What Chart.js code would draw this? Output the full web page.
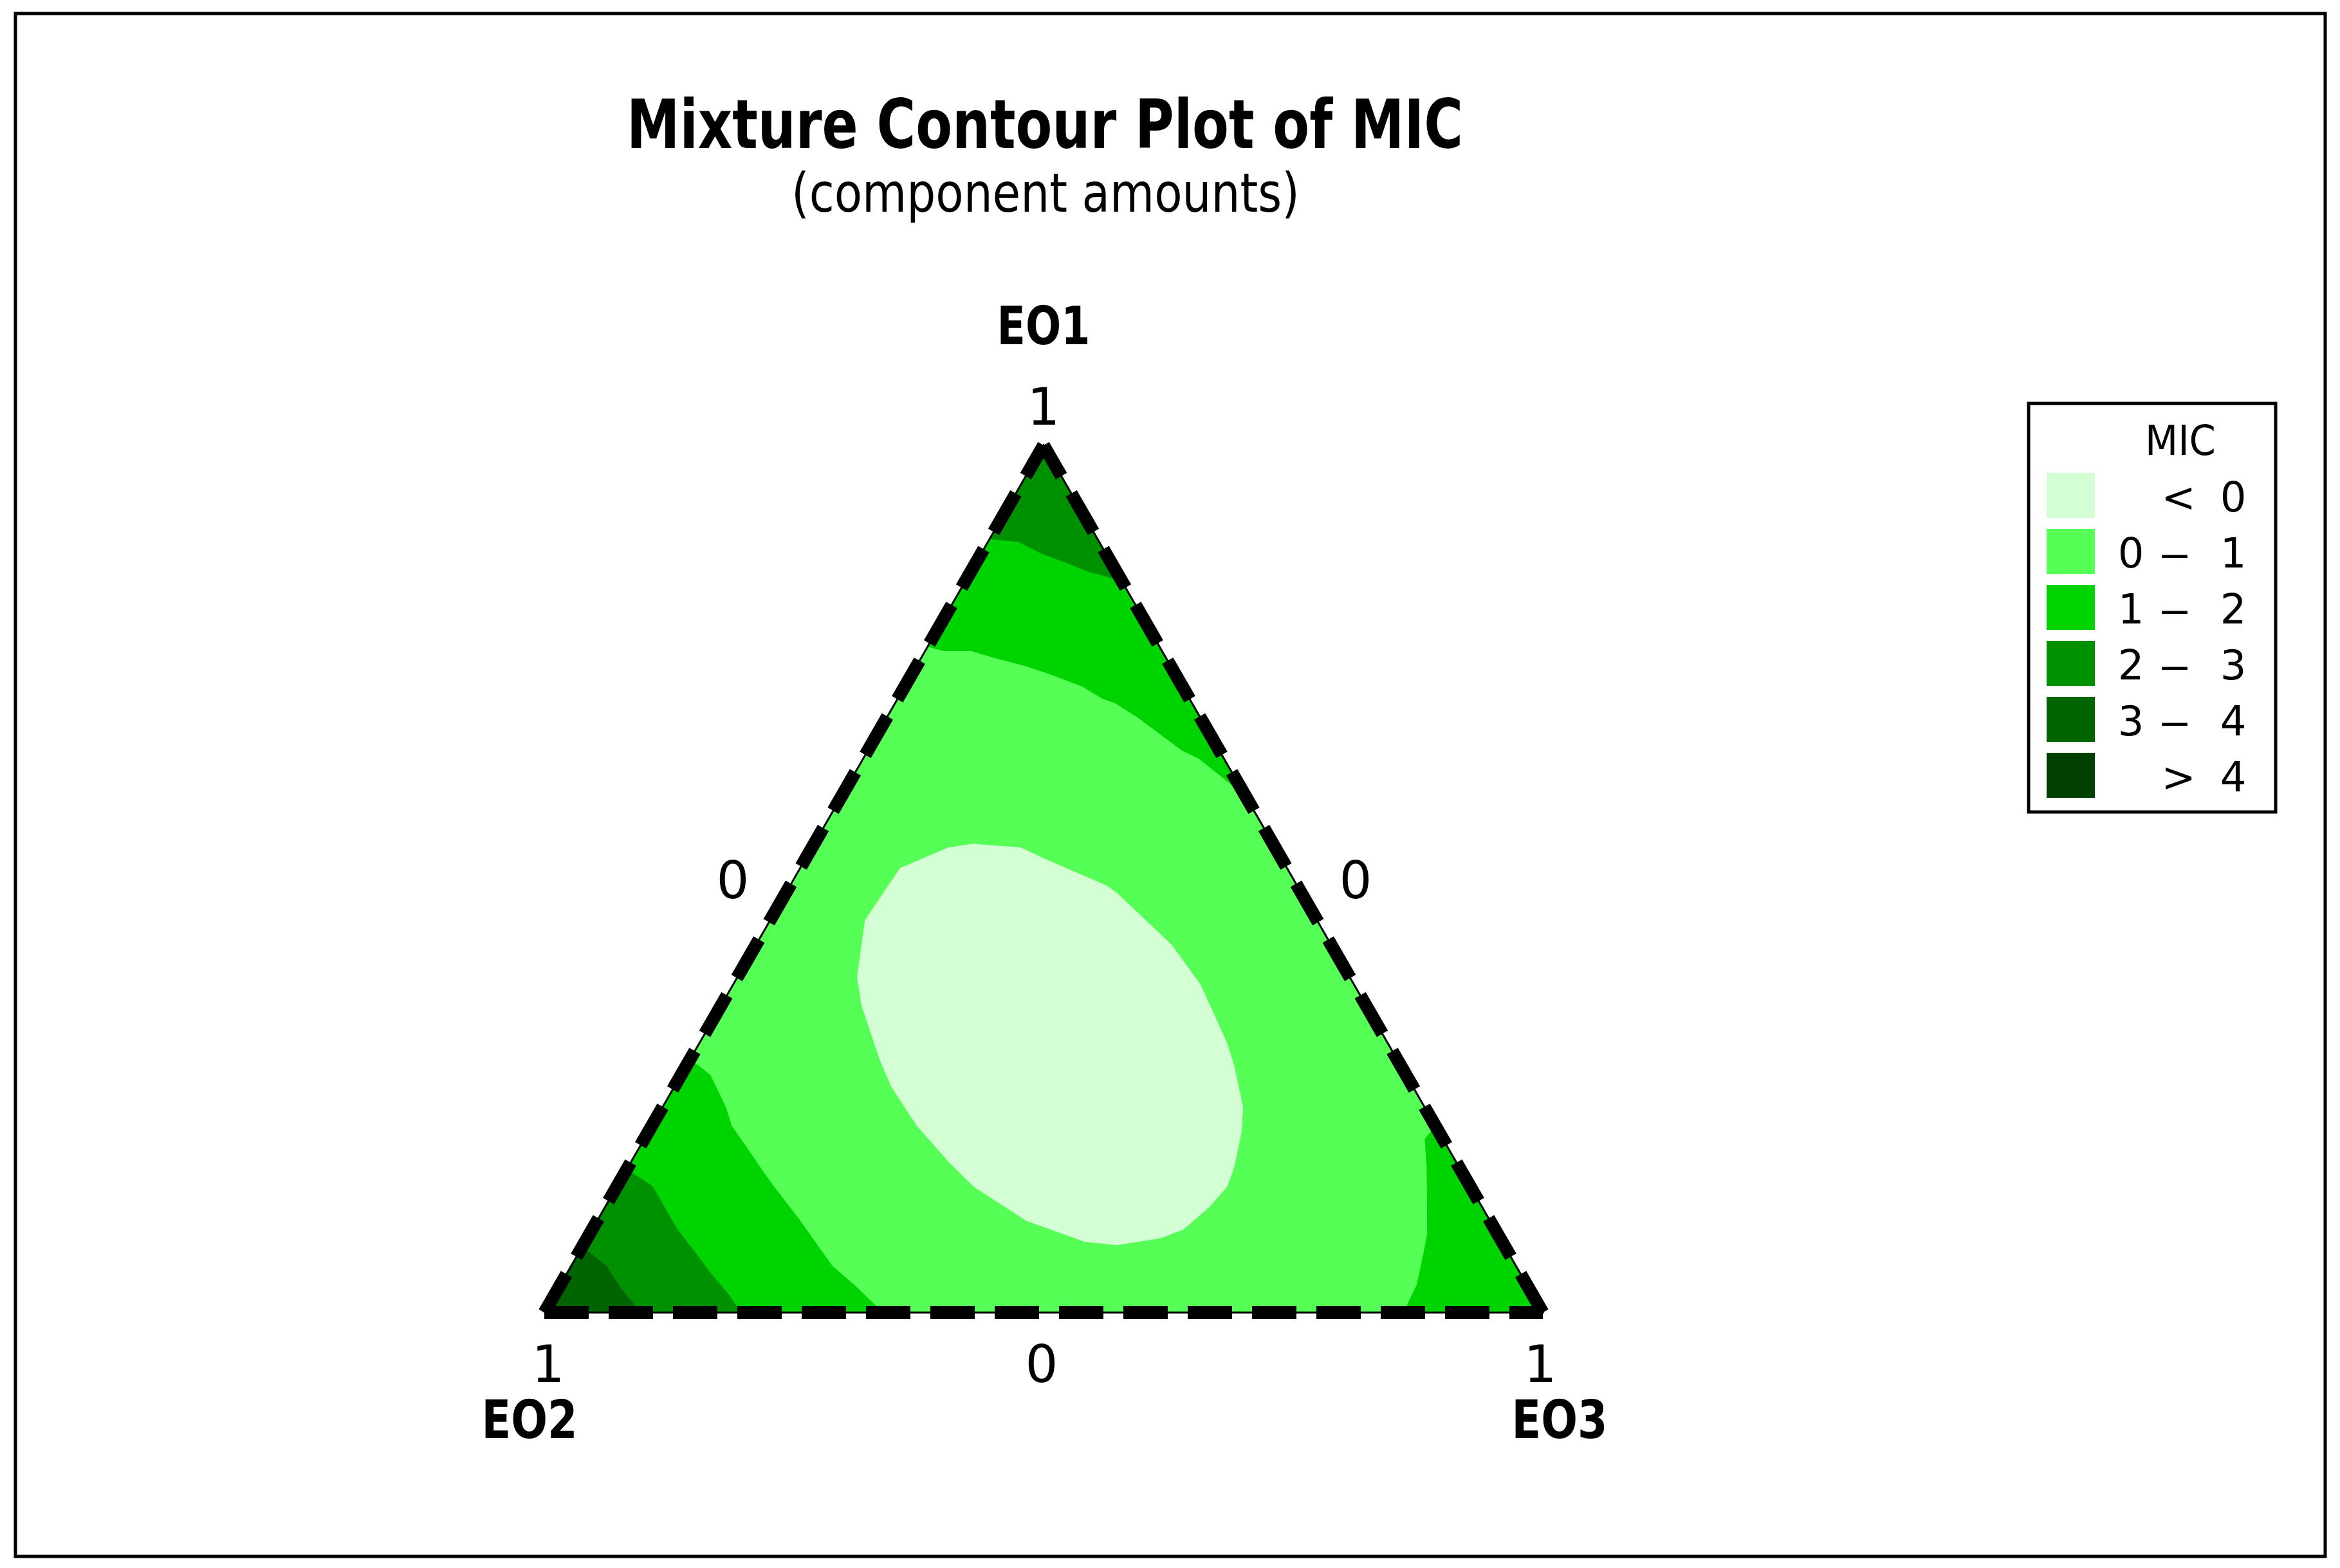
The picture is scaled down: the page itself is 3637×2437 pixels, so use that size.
<!DOCTYPE html>
<html>
<head>
<meta charset="utf-8">
<title>Mixture Contour Plot of MIC</title>
<script src="https://cdn.jsdelivr.net/npm/chart.js@4.4.1/dist/chart.umd.min.js"></script>
<style>
  html, body { margin: 0; padding: 0; background: #ffffff; }
  canvas { display: block; }
</style>
</head>
<body>
<canvas id="mixChart" width="3637" height="2437"></canvas>
<script>
// mixture components (top, bottom-left, bottom-right vertex)
const components = ["EO1", "EO2", "EO3"];
const vertexTick = "1";
const edgeTick = "0";

// MIC contour levels
const levelBreaks = [0, 1, 2, 3, 4];
const levelColors = ["#D4FFD4", "#55FF55", "#00D400", "#009100", "#006400", "#004000"];

// contour boundaries, as [EO1, EO3] amounts (EO2 = 1 - EO1 - EO3)
const top23 = [[0.892, 0], [0.889, 0.030], [0.875, 0.061], [0.866, 0.087], [0.855, 0.116], [0.851, 0.131], [0.843, 0.157]];
const top12 = [[0.768, 0], [0.763, 0.019], [0.763, 0.046], [0.754, 0.077], [0.746, 0.108], [0.736, 0.139], [0.722, 0.178],
  [0.708, 0.205], [0.703, 0.220], [0.687, 0.250], [0.669, 0.280], [0.648, 0.315], [0.639, 0.336], [0.596, 0.404]];
const left12 = [[0.292, 0], [0.274, 0.029], [0.237, 0.063], [0.215, 0.080], [0.188, 0.110], [0.165, 0.135], [0.148, 0.154],
  [0.106, 0.203], [0.054, 0.261], [0.030, 0.297], [0, 0.339]];
const left23 = [[0.165, 0], [0.146, 0.035], [0.096, 0.085], [0.073, 0.112], [0.047, 0.142], [0.020, 0.175], [0, 0.197]];
const left34 = [[0.076, 0], [0.054, 0.035], [0.030, 0.060], [0.009, 0.086], [0, 0.094]];
const right12 = [[0.215, 0.785], [0.200, 0.782], [0.168, 0.800], [0.091, 0.839], [0.067, 0.847], [0.032, 0.858], [0.007, 0.860], [0, 0.861]];
const belowZero = [[0.512, 0.100], [0.536, 0.137], [0.540, 0.159], [0.536, 0.209], [0.524, 0.237], [0.492, 0.317], [0.484, 0.331],
  [0.424, 0.416], [0.378, 0.468], [0.311, 0.528], [0.285, 0.548], [0.237, 0.581], [0.208, 0.594], [0.167, 0.607], [0.145, 0.611],
  [0.122, 0.605], [0.096, 0.592], [0.086, 0.574], [0.078, 0.534], [0.082, 0.500], [0.106, 0.430], [0.145, 0.358], [0.174, 0.318],
  [0.215, 0.266], [0.261, 0.217], [0.292, 0.190], [0.354, 0.141], [0.387, 0.120], [0.453, 0.095]];

// vertices in [EO1, EO3]
const V1 = [1, 0], V2 = [0, 0], V3 = [0, 1];

// where the triangle sits on the page (pixels)
const W = 3637, H = 2437;
const triLeft = 846, triRight = 2398, triTop = 692, triBase = 2040;
const unitX = triRight - triLeft, unitY = triBase - triTop;

function toXY(p) {
  return { x: p[1] + p[0] / 2, y: p[0] };
}

function region(points, color, order) {
  return {
    data: points.map(toXY),
    showLine: true,
    fill: "shape",
    backgroundColor: color,
    borderColor: color,
    borderWidth: 1,
    pointRadius: 0,
    tension: 0,
    order: order
  };
}

function edge(a, b, dashed) {
  return {
    data: [a, b].map(toXY),
    showLine: true,
    fill: false,
    borderColor: "#000000",
    borderWidth: dashed ? 20 : 3,
    borderDash: dashed ? [69, 31] : [],
    borderCapStyle: "butt",
    pointRadius: 0,
    order: dashed ? 1 : 2
  };
}

function squeezeText(ctx, text, cx, baseline, size, bold, width) {
  ctx.save();
  ctx.font = (bold ? "bold " : "") + size + "px 'DejaVu Sans'";
  ctx.textAlign = "center";
  ctx.textBaseline = "alphabetic";
  ctx.fillStyle = "#000000";
  const w = ctx.measureText(text).width;
  const k = width ? width / w : 1;
  ctx.translate(cx, baseline);
  ctx.scale(k, 1);
  ctx.fillText(text, 0, 0);
  ctx.restore();
}

const decorations = {
  id: "decorations",
  afterDraw(chart) {
    const ctx = chart.ctx;
    const sx = chart.scales.x, sy = chart.scales.y;
    const px = p => { const q = toXY(p); return [sx.getPixelForValue(q.x), sy.getPixelForValue(q.y)]; };

    // titles
    squeezeText(ctx, "Mixture Contour Plot of MIC", 1624, 230, 106, true, 1300);
    squeezeText(ctx, "(component amounts)", 1625, 329, 83, false, 790);

    // vertex labels
    const a = px(V1), b = px(V2), c = px(V3);
    squeezeText(ctx, components[0], a[0], a[1] - 157, 82, true, 145);
    squeezeText(ctx, vertexTick, a[0], a[1] - 32, 80, false);
    squeezeText(ctx, components[1], b[0] - 23, b[1] + 195, 82, true, 149);
    squeezeText(ctx, vertexTick, b[0] + 6, b[1] + 108, 80, false);
    squeezeText(ctx, components[2], c[0] + 26, c[1] + 195, 82, true, 149);
    squeezeText(ctx, vertexTick, c[0] - 4, c[1] + 108, 80, false);

    // zero ticks at edge midpoints
    squeezeText(ctx, edgeTick, (a[0] + b[0]) / 2 - 95, (a[1] + b[1]) / 2 + 30, 80, false);
    squeezeText(ctx, edgeTick, (a[0] + c[0]) / 2 + 97, (a[1] + c[1]) / 2 + 30, 80, false);
    squeezeText(ctx, edgeTick, (b[0] + c[0]) / 2 - 3, b[1] + 108, 80, false);

    // legend
    ctx.save();
    ctx.strokeStyle = "#000000";
    ctx.lineWidth = 5;
    ctx.strokeRect(3153, 627, 384, 635);
    ctx.restore();
    squeezeText(ctx, "MIC", 3389, 707, 64, false, 110);
    for (let i = 0; i < levelColors.length; i++) {
      const cy = 770 + i * 87;
      ctx.fillStyle = levelColors[i];
      ctx.fillRect(3181, cy - 35, 75, 70);
      if (i === 0) {
        squeezeText(ctx, "<", 3386, cy + 25, 64, false);
        squeezeText(ctx, String(levelBreaks[0]), 3471, cy + 25, 64, false);
      } else if (i === levelColors.length - 1) {
        squeezeText(ctx, ">", 3386, cy + 25, 64, false);
        squeezeText(ctx, String(levelBreaks[levelBreaks.length - 1]), 3471, cy + 25, 64, false);
      } else {
        squeezeText(ctx, String(levelBreaks[i - 1]), 3312, cy + 25, 64, false);
        squeezeText(ctx, "\u2014", 3380, cy + 25, 64, false, 44);
        squeezeText(ctx, String(levelBreaks[i]), 3471, cy + 25, 64, false);
      }
    }

    // outer frame
    ctx.save();
    ctx.strokeStyle = "#000000";
    ctx.lineWidth = 5;
    ctx.strokeRect(24, 21, 3590, 2398);
    ctx.restore();
  }
};

new Chart(document.getElementById("mixChart").getContext("2d"), {
  type: "scatter",
  data: {
    datasets: [
      region([V2, V3, V1], levelColors[1], 10),
      region(top12.concat([V1]), levelColors[2], 8),
      region(left12.concat([V2]), levelColors[2], 8),
      region(right12.concat([V3]), levelColors[2], 8),
      region(top23.concat([V1]), levelColors[3], 6),
      region(left23.concat([V2]), levelColors[3], 6),
      region(left34.concat([V2]), levelColors[4], 5),
      region(belowZero, levelColors[0], 4),
      {
        data: [V2, V3, V1, V2].map(toXY),
        showLine: true, fill: false, borderColor: "#000000", borderWidth: 3,
        pointRadius: 0, order: 2
      },
      edge(V2, V3, true),
      edge(V2, V1, true),
      edge(V3, V1, true)
    ]
  },
  options: {
    responsive: false,
    devicePixelRatio: 1,
    animation: false,
    events: [],
    layout: { padding: 0 },
    plugins: {
      legend: { display: false },
      title: { display: false },
      tooltip: { enabled: false }
    },
    scales: {
      x: { type: "linear", display: false, min: -triLeft / unitX, max: (W - triLeft) / unitX },
      y: { type: "linear", display: false, min: -(H - triBase) / unitY, max: triBase / unitY }
    }
  },
  plugins: [decorations]
});
</script>
</body>
</html>
